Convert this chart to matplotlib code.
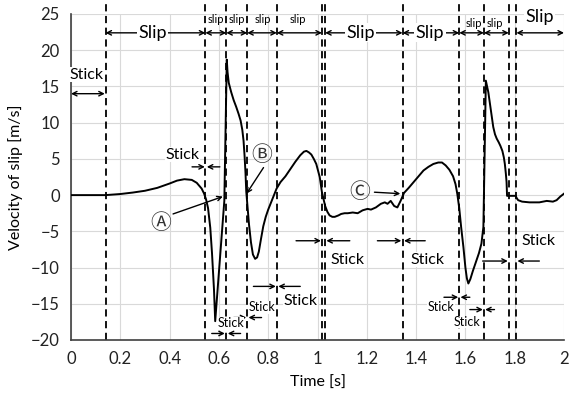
import matplotlib
matplotlib.use("Agg")
import matplotlib.pyplot as plt

plt.rcParams['font.family'] = ['Lato', 'DejaVu Sans']

# ---- data ----
time_s = [0.0, 0.14, 0.2, 0.25, 0.3, 0.35, 0.4, 0.43, 0.46, 0.49, 0.51, 0.53, 0.54, 0.548,
          0.556, 0.565, 0.572, 0.58, 0.585,
          0.622, 0.632, 0.635, 0.64, 0.65, 0.66, 0.67, 0.68, 0.688, 0.695, 0.7, 0.704, 0.708,
          0.711, 0.716, 0.722, 0.73, 0.738, 0.747, 0.755, 0.762, 0.77, 0.78, 0.79, 0.8, 0.814,
          0.834, 0.85, 0.87, 0.89, 0.91, 0.93, 0.945, 0.955, 0.965, 0.975, 0.985, 0.995, 1.003,
          1.009, 1.014, 1.018, 1.024, 1.031, 1.04, 1.049, 1.06, 1.07, 1.085, 1.096, 1.11, 1.123,
          1.143, 1.163, 1.183, 1.203, 1.217, 1.237, 1.257, 1.273, 1.284, 1.297, 1.311, 1.324,
          1.337, 1.351, 1.37, 1.39, 1.41, 1.43, 1.45, 1.47, 1.49, 1.505, 1.52, 1.535, 1.55, 1.56,
          1.567, 1.575, 1.583, 1.592, 1.6, 1.606, 1.612, 1.62, 1.63, 1.645, 1.655, 1.665, 1.673,
          1.683, 1.688, 1.693, 1.7, 1.707, 1.713, 1.72, 1.727, 1.735, 1.742, 1.75, 1.756, 1.76,
          1.764, 1.767, 1.769, 1.804, 1.808, 1.814, 1.83, 1.86, 1.9, 1.93, 1.955, 1.97, 1.985,
          2.0]
velocity = [0.0, 0.0, 0.15, 0.35, 0.6, 1.0, 1.6, 2.0, 2.2, 2.1, 1.7, 0.9, 0.2, -0.6,
            -1.8, -4.5, -8.0, -13.0, -17.4,
            -0.8, 18.7, 17.0, 15.5, 14.2, 13.1, 12.2, 11.2, 10.3, 9.0, 7.5, 5.5, 3.0,
            0.5, -1.5, -4.0, -6.5, -8.2, -8.8, -8.6, -7.8, -6.2, -4.3, -3.0, -2.0, -0.8,
            0.9, 1.8, 2.6, 3.6, 4.6, 5.5, 6.0, 6.1, 5.9, 5.6, 5.0, 4.3, 3.3,
            2.5, 1.3, 0.4, -0.5, -1.5, -2.3, -2.8, -3.0, -3.0, -2.8, -2.6, -2.5, -2.5,
            -2.4, -2.5, -2.1, -1.9, -2.0, -1.7, -1.2, -1.0, -1.2, -0.8, -1.5, -1.7,
            -0.8, 0.3, 1.0, 1.8, 2.6, 3.4, 3.9, 4.3, 4.5, 4.5, 4.1, 3.5, 2.6, 1.5,
            0.2, -1.8, -4.5, -7.2, -10.0, -11.5, -12.2, -11.6, -10.5, -9.0, -8.0, -6.7, -4.4,
            15.8, 15.0, 14.2, 12.5, 10.8, 9.4, 8.4, 7.8, 7.3, 6.8, 6.1, 5.2, 4.3,
            3.0, 1.8, -0.1, -0.1, -0.4, -0.7, -0.9, -1.0, -1.0, -0.8, -0.9, -0.7, -0.2,
            0.2]

boundaries = [0.14, 0.545, 0.63, 0.715, 0.835, 1.018, 1.031, 1.345, 1.575, 1.675, 1.776, 1.807]

x_ticks = [0, 0.2, 0.4, 0.6, 0.8, 1.0, 1.2, 1.4, 1.6, 1.8, 2.0]
x_tick_labels = ["0", "0.2", "0.4", "0.6", "0.8", "1", "1.2", "1.4", "1.6", "1.8", "2"]
y_ticks = [-20, -15, -10, -5, 0, 5, 10, 15, 20, 25]

# slip phases: (start, end, label, text x, text y, fontsize)
slip_phases = [
    (0.14, 0.545, "Slip", 0.33, 22.4, 13),
    (0.545, 0.63, "slip", 0.588, 24.2, 8),
    (0.63, 0.715, "slip", 0.672, 24.2, 8),
    (0.715, 0.835, "slip", 0.777, 24.2, 8),
    (0.835, 1.018, "slip", 0.922, 24.2, 8),
    (1.031, 1.345, "Slip", 1.175, 22.4, 13),
    (1.345, 1.575, "Slip", 1.457, 22.4, 13),
    (1.575, 1.675, "slip", 1.634, 23.7, 8),
    (1.675, 1.776, "slip", 1.718, 23.7, 8),
    (1.807, 2.0, "Slip", 1.9, 24.6, 13),
]
slip_arrow_y = 22.4

# stick markers: (left arrow start, left end, right start, right end, arrow y, text x, text y, fontsize)
stick_marks = [
    (0.491, 0.543, 0.604, 0.551, 3.9, 0.451, 5.6, 11.5),
    (0.571, 0.624, 0.688, 0.636, -19.1, 0.648, -17.7, 9),
    (0.66, 0.711, 0.773, 0.72, -16.9, 0.773, -15.5, 9),
    (0.74, 0.831, 0.93, 0.841, -12.6, 0.93, -14.6, 11.5),
    (0.913, 1.014, 1.131, 1.036, -6.3, 1.123, -9.0, 11.5),
    (1.243, 1.340, 1.437, 1.351, -6.3, 1.445, -8.9, 11.5),
    (1.513, 1.571, 1.618, 1.580, -14.1, 1.501, -15.5, 9),
    (1.618, 1.671, 1.718, 1.680, -15.8, 1.606, -17.5, 9),
    (1.67, 1.772, 1.9, 1.811, -9.1, 1.895, -6.3, 11.5),
]

# point labels: (label, text x, text y, arrow start x, y, arrow end x, y)
points = [
    ("Ⓐ", 0.365, -3.9, 0.414, -2.6, 0.616, -0.2),
    ("Ⓑ", 0.773, 5.6, 0.781, 3.8, 0.712, 0.2),
    ("Ⓒ", 1.171, 0.4, 1.231, 0.4, 1.336, 0.2),
]

# ---- figure ----
fig = plt.figure(figsize=(5.71, 3.97), dpi=100)
ax = fig.add_axes([71/571, 1 - 340/397, (564 - 71)/571, (340 - 14)/397])

ax.plot(time_s, velocity, color='black', lw=1.4, zorder=3, solid_joinstyle='round')

ax.set_xlim(0, 2)
ax.set_ylim(-20, 25)
ax.set_xticks(x_ticks)
ax.set_xticklabels(x_tick_labels)
ax.set_yticks(y_ticks)
ax.tick_params(length=0, labelsize=12, pad=8, colors='#222222')
ax.grid(True, color='#d9d9d9', lw=0.8)
ax.set_axisbelow(True)
for s in ['top', 'right']:
    ax.spines[s].set_visible(False)
for s in ['left', 'bottom']:
    ax.spines[s].set_color('#404040')
    ax.spines[s].set_linewidth(1.2)

ax.set_xlabel("Time [s]", fontsize=11.5, labelpad=6)
ax.set_ylabel("Velocity of slip [m/s]", fontsize=11.5, labelpad=6)

top_v = 26.9
ax.vlines(boundaries, -20, top_v, colors='black', linestyles=(0, (4, 2.5)), lw=1.3,
          clip_on=False, zorder=2)

aprops = dict(arrowstyle='<->', color='black', lw=1.0, shrinkA=0, shrinkB=0,
              mutation_scale=8)
for (a, b, lab, tx, ty, fs) in slip_phases:
    ax.annotate('', xy=(b, slip_arrow_y), xytext=(a, slip_arrow_y), arrowprops=aprops,
                annotation_clip=False, zorder=4)
    big = fs > 10
    ax.text(tx, ty, lab, fontsize=fs, ha='center', va='center', zorder=5,
            clip_on=False,
            bbox=dict(facecolor='white', edgecolor='none', pad=1.0) if big else None)

# top-left stick
ax.annotate('', xy=(0.137, 14.0), xytext=(0.0, 14.0), arrowprops=aprops,
            annotation_clip=False, zorder=4)
ax.text(0.064, 16.6, "Stick", fontsize=11.5, ha='center', va='center', zorder=5,
        bbox=dict(facecolor='white', edgecolor='none', pad=0.5))

sprops = dict(arrowstyle='->', color='black', lw=1.0, shrinkA=0, shrinkB=0,
              mutation_scale=8)
for (l0, l1, r0, r1, ay, tx, ty, fs) in stick_marks:
    ax.annotate('', xy=(l1, ay), xytext=(l0, ay), arrowprops=sprops, zorder=4)
    ax.annotate('', xy=(r1, ay), xytext=(r0, ay), arrowprops=sprops, zorder=4)
    ax.text(tx, ty, "Stick", fontsize=fs, ha='center', va='center', zorder=5,
            bbox=dict(facecolor='white', edgecolor='none', pad=0.3))

pprops = dict(arrowstyle='->', color='black', lw=1.0, shrinkA=0, shrinkB=0,
              mutation_scale=8)
for (lab, tx, ty, ax0, ay0, ax1, ay1) in points:
    ax.annotate('', xy=(ax1, ay1), xytext=(ax0, ay0), arrowprops=pprops, zorder=4)
    ax.text(tx, ty, lab, fontsize=15, ha='center', va='center', zorder=5,
            family=['Noto Sans CJK JP', 'DejaVu Sans'], color='#333333')

fig.savefig("out.png", dpi=100)
